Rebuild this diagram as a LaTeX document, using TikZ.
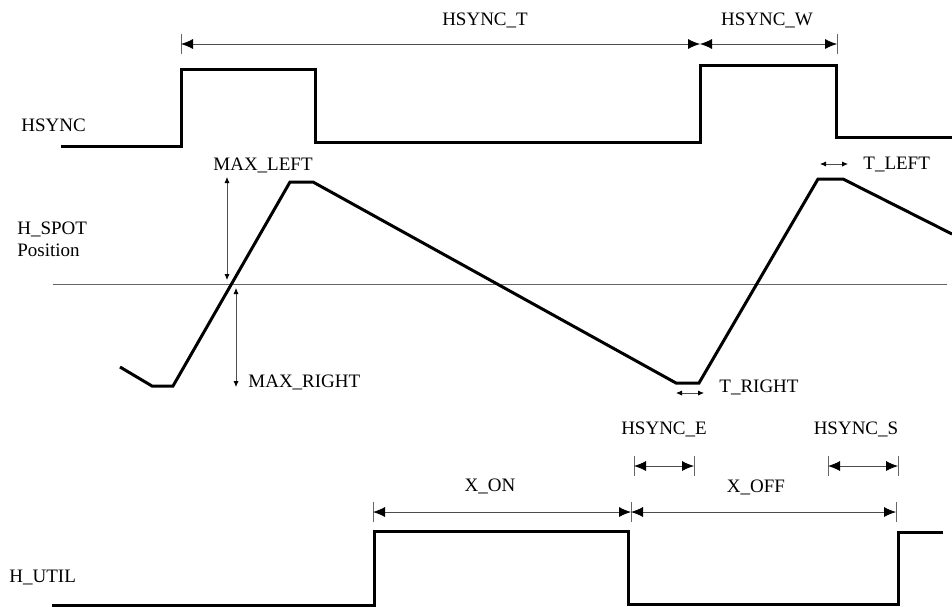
\documentclass[tikz,border=0pt]{standalone}
\usepackage{fontspec}
\setmainfont{Liberation Serif}
\usetikzlibrary{arrows.meta}
\begin{document}
\begin{tikzpicture}[x=0.5pt,y=-0.5pt,
wave/.style={line width=1.5pt,line join=miter},
dim/.style={{Latex[length=6pt,width=5pt,black]}-{Latex[length=6pt,width=5pt,black]},line width=0.4pt,black!70},
small/.style={{Latex[length=3pt,width=2.6pt,black]}-{Latex[length=3pt,width=2.6pt,black]},line width=0.4pt,black!70},
tick/.style={line width=0.3pt,black!60},
lbl/.style={font=\fontsize{9.5}{11}\selectfont,inner sep=0pt}]
\useasboundingbox (0,0) rectangle (952,606);
% signals
\draw[wave] (61,146) -- (181,146) -- (181,69) -- (315,69) -- (315,142) -- (700,142)
 -- (700,65) -- (836,65) -- (836,137) -- (952,137);
\draw[line width=0.4pt,black!60] (53,284) -- (947,284);
\draw[wave] (120,367) -- (152,386) -- (173,386) -- (290,182) -- (313,182) -- (676,383)
 -- (699,383) -- (818,179) -- (843,179) -- (952,234);
\draw[wave] (52,605) -- (374,605) -- (374,531) -- (628,531) -- (628,604) -- (898,604)
 -- (898,532) -- (943,532);
% labels
\node[lbl,anchor=west] (hsync) at (21,125) {HSYNC};
\node[lbl,anchor=west,align=left] (hspot) at (17,239) {H\_SPOT\\Position};
\node[lbl,anchor=west] (hutil) at (9,577) {H\_UTIL};
\node[lbl] (hsynct) at (485,20) {HSYNC\_T};
\node[lbl] (hsyncw) at (767,20) {HSYNC\_W};
\node[lbl,anchor=west] (maxleft) at (213,165) {MAX\_LEFT};
\node[lbl,anchor=west] (maxright) at (248,382) {MAX\_RIGHT};
\node[lbl,anchor=west] (tleft) at (863,164) {T\_LEFT};
\node[lbl,anchor=west] (tright) at (719,387) {T\_RIGHT};
\node[lbl] (hsynce) at (664,429) {HSYNC\_E};
\node[lbl] (hsyncs) at (856,429) {HSYNC\_S};
\node[lbl] (xon) at (490,486) {X\_ON};
\node[lbl] (xoff) at (756,487) {X\_OFF};
% dimension points
\coordinate (t1) at (181,44);
\coordinate (t2) at (700,44);
\coordinate (t3) at (837,44);
\coordinate (e1) at (634,466);
\coordinate (e2) at (694,466);
\coordinate (s1) at (828,466);
\coordinate (s2) at (898,466);
\coordinate (x1) at (373,512);
\coordinate (x2) at (631,512);
\coordinate (x3) at (896,512);
\coordinate (ml1) at (227,177);
\coordinate (ml2) at (227,280);
\coordinate (mr1) at (236,288);
\coordinate (mr2) at (236,387);
\coordinate (tl1) at (820,164);
\coordinate (tl2) at (848,164);
\coordinate (tr1) at (676,393);
\coordinate (tr2) at (704,393);
\foreach \p in {t1,t3,e1,e2,s1,s2,x1,x2,x3}{
\draw[tick] ([yshift=-5pt]\p) -- ([yshift=5pt]\p);
}
\draw[dim] (t1) -- (t2);
\draw[dim] (t2) -- (t3);
\draw[dim] (e1) -- (e2);
\draw[dim] (s1) -- (s2);
\draw[dim] (x1) -- (x2);
\draw[dim] (x2) -- (x3);
\draw[small] (ml1) -- (ml2);
\draw[small] (mr1) -- (mr2);
\draw[small] (tl1) -- (tl2);
\draw[small] (tr1) -- (tr2);
\end{tikzpicture}
\end{document}
